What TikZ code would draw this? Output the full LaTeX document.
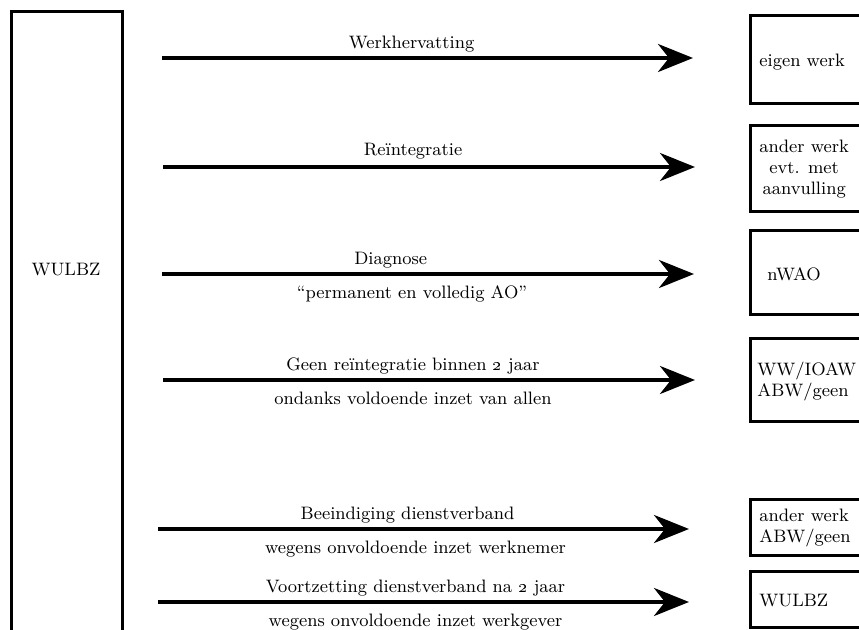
\documentclass[tikz,border=0pt]{standalone}
\usepackage{tikz}
\usetikzlibrary{arrows.meta}

\begin{document}
\begin{tikzpicture}[x=0.5pt,y=-0.5pt,font=\fontsize{9}{10.5}\selectfont,
        link/.style={line width=2pt,-{Stealth[length=17.5pt,width=14pt,inset=5.5pt]}},
        box/.style={line width=1.5pt},
        lbl/.style={inner sep=2pt},
        sub/.style={inner sep=2pt,below=3pt}]
    \path[use as bounding box] (0,0) rectangle (859,630);
    \clip (0,0) rectangle (859,630);

    \draw[box] (11,12) rectangle (122,660);
    \node (wulbz) at (66,270) {WULBZ};

    \foreach \ya/\yb in {16/104,126/212,231/315,339/422,500/556,572/628} {
        \draw[box] (750,\ya) rectangle (900,\yb);
    }

    \node[anchor=west,inner sep=0pt] (eigen) at (759,62) {eigen werk};
    \node[anchor=west,inner sep=0pt] (ander) at (759,169) {\begin{tabular}{@{}c@{}}ander werk\\evt. met\\aanvulling\end{tabular}};
    \node[anchor=west,inner sep=0pt] (nwao) at (767,274) {nWAO};
    \node[anchor=west,inner sep=0pt,align=left] (ww) at (757,382) {WW/IOAW\\ABW/geen};
    \node[anchor=west,inner sep=0pt,align=left] (abw) at (759,528) {ander werk\\ABW/geen};
    \node[anchor=west,inner sep=0pt] (wulbzb) at (759,601) {WULBZ};

    \foreach[count=\i] \y/\xa/\xb in {58/162/693,167/163/695,274/162/694,380/163/695,529/158/689,602/158/689} {
        \coordinate (s\i) at (\xa,\y);
        \coordinate (e\i) at (\xb,\y);
    }

    \draw[link] (s1) -- (e1) node[lbl,pos=0.47,above] (t1) {Werkhervatting};
    \draw[link] (s2) -- (e2) node[lbl,pos=0.47,above=1pt] (t2) {Reïntegratie};
    \draw[link] (s3) -- (e3) node[lbl,pos=0.43,above] (t3) {Diagnose}
        node[sub,pos=0.47] (b3) {“permanent en volledig AO”};
    \draw[link] (s4) -- (e4) node[lbl,pos=0.47,above] (t4) {Geen reïntegratie binnen \oldstylenums{2} jaar}
        node[sub,pos=0.47] (b4) {ondanks voldoende inzet van allen};
    \draw[link] (s5) -- (e5) node[lbl,pos=0.47,above] (t5) {Beeindiging dienstverband}
        node[sub,pos=0.485] (b5) {wegens onvoldoende inzet werknemer};
    \draw[link] (s6) -- (e6) node[lbl,pos=0.485,above] (t6) {Voortzetting dienstverband na \oldstylenums{2} jaar}
        node[sub,pos=0.485] (b6) {wegens onvoldoende inzet werkgever};
\end{tikzpicture}
\end{document}
